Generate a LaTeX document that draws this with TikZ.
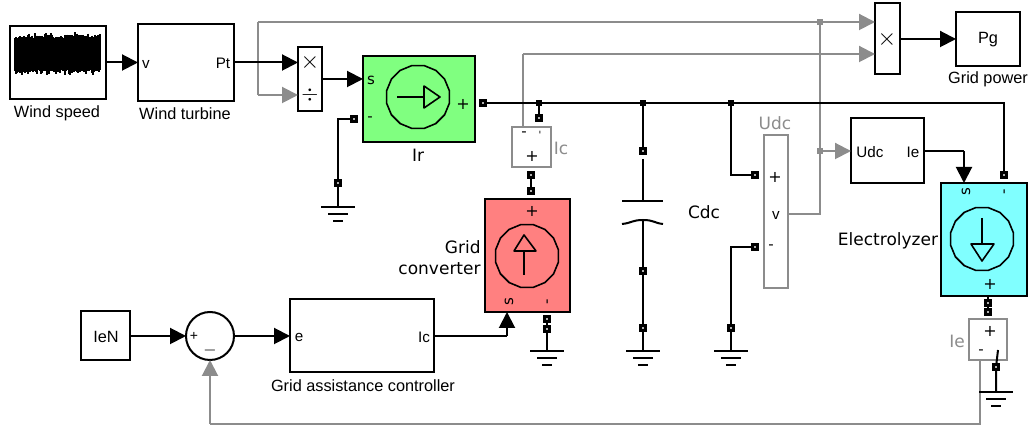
\documentclass[tikz,border=0pt]{standalone}
\usepackage{fontspec}
\setmainfont{Liberation Sans}
\newfontfamily\vdfont{DejaVu Sans}
\usetikzlibrary{arrows.meta,shapes.geometric}
\definecolor{sigray}{HTML}{8C8C8C}
\definecolor{srcgreen}{HTML}{80FF80}
\definecolor{srcred}{HTML}{FF8080}
\definecolor{srccyan}{HTML}{80FFFF}
\tikzset{
    wire/.style={line width=1pt},
    graywire/.style={line width=1pt, draw=sigray},
    sig/.style={wire, -{Triangle[length=8pt,width=8pt]}, shorten >=-0.5pt},
    graysig/.style={graywire, -{Triangle[length=8pt,width=8pt]}, shorten >=-0.5pt},
    block/.style={draw, line width=1pt, inner sep=0pt},
    graybox/.style={draw=sigray, line width=1pt, inner sep=0pt, fill=white},
    port/.style={draw, fill=black!30, line width=1.5pt, minimum size=2.6pt, inner sep=0pt},
    dotj/.style={fill=black, minimum size=3pt, inner sep=0pt},
    grayj/.style={fill=sigray, minimum size=3pt, inner sep=0pt},
    srcring/.style={draw, line width=0.8pt, regular polygon, regular polygon sides=16, minimum size=32pt, inner sep=0pt},
    lbl/.style={inner sep=0pt, font=\fontsize{8.15}{9}\selectfont},
    vlbl/.style={inner sep=0pt, font=\vdfont\fontsize{8.5}{10.5}\selectfont},
    tag/.style={inner sep=0pt, font=\fontsize{7.6}{8}\selectfont},
    vtag/.style={inner sep=0pt, font=\vdfont\fontsize{7.5}{8}\selectfont},
    plus/.style={inner sep=0pt, font=\vdfont\fontsize{8}{8}\selectfont},
}
\begin{document}
\begin{tikzpicture}[x=0.5pt,y=-0.5pt]
\useasboundingbox (0,0) rectangle (1029,426);

% gray signals first, the bus runs over them
\coordinate (feedtop) at (258,22);
\coordinate (feedlow) at (258,95);
\coordinate (icup) at (523,54);
\coordinate (icout) at (523,127);
\coordinate (vout) at (788,214);
\coordinate (vtop) at (820,214);
\coordinate (ieout) at (980,360);
\coordinate (iedown) at (980,424);
\coordinate (iebend) at (210,424);

% first row
\node[block, minimum width=48pt, minimum height=36.5pt] (windspeed) at (58,62.5) {};
\pgfmathsetseed{4711}
\foreach \x in {15,16,...,100} {
    \pgfmathsetmacro{\wtop}{38-rnd*rnd*6}
    \pgfmathsetmacro{\wlow}{70+rnd*rnd*6}
    \draw[line width=0.55pt] (\x,\wtop) -- (\x,\wlow);
}
\node[lbl] (windlabel) at (57,113) {Wind speed};
\node[block, minimum width=48pt, minimum height=38.5pt] (turbine) at (186,62.5) {};
\node[tag] (vtxt) at (146,64) {v};
\node[tag] (pttxt) at (223,63) {Pt};
\node[lbl] (turbinelabel) at (185,114) {Wind turbine};
\node[block, minimum width=12pt, minimum height=32pt] (divide) at (310,79) {};
\node[lbl, font=\fontsize{13}{13}\selectfont] (divx) at (310,63) {$\times$};
\node[lbl, font=\fontsize{11}{11}\selectfont] (divd) at (310,95) {$\div$};
\node[block, fill=srcgreen, minimum width=56pt, minimum height=43pt] (irsrc) at (419,99) {};
\node[srcring] (irring) at (418,97) {};
\draw[line width=0.8pt] (397,97) -- (424,97);
\draw[line width=0.8pt, line join=round] (424,86) -- (440,97) -- (424,108) -- cycle;
\node[vtag] (irs) at (371,80) {s};
\node[vtag] (irm) at (370,119) {-};
\node[plus] (irp) at (463,104) {+};
\node[vlbl] (irlabel) at (418,155) {Ir};
\node[block, minimum width=12.5pt, minimum height=35.5pt] (power) at (887.5,39) {};
\node[lbl, font=\fontsize{13}{13}\selectfont] (powx) at (887,40) {$\times$};
\node[block, minimum width=32pt, minimum height=27pt] (pgbox) at (988,39) {};
\node[lbl] (pgtxt) at (988,40) {Pg};
\node[lbl] (pglabel) at (988,79) {Grid power};

% gray connectors
\draw[graysig] (feedlow) -- (feedlow -| divide.west);
\draw[graywire] (feedlow) -- (feedtop);
\draw[graysig] (feedtop) -- (feedtop -| power.west);
\draw[graywire] (icout) -- (icup);
\draw[graysig] (icup) -- (icup -| power.west);
\node[grayj] (vjtop) at (820,22) {};
\node[grayj] (vjmid) at (820,151) {};
\node[block, minimum width=36.5pt, minimum height=32.5pt] (udcbox) at (887.5,151) {};
\node[tag] (udctxt) at (870,152) {Udc};
\node[tag] (ietxt) at (913,152) {Ie};
\draw[graywire] (vout) -- (vtop) -- (vjtop);
\draw[graysig] (vjmid) -- (udcbox.west);

% black signals
\draw[sig] (windspeed.east) -- (turbine.west);
\draw[sig] (turbine.east) -- (divide.west |- turbine.east);
\draw[sig] (divide.east) -- (irsrc.west |- divide.east);

% dc bus
\node[port] (irplus) at (483,103) {};
\node[port] (elminus) at (1004,175) {};
\node[dotj] (busa) at (539,103) {};
\node[dotj] (busb) at (643,103) {};
\node[dotj] (busc) at (731,103) {};
\coordinate (busend) at (1004,103);
\draw[wire] (irplus) -- (busend) -- (elminus);

% ground of Ir
\node[port] (irminus) at (354,119) {};
\node[port] (irgnd) at (338,183) {};
\coordinate (irbend) at (338,119);
\coordinate (gnda) at (338,207);
\draw[wire] (irminus) -- (irbend) -- (irgnd) -- (gnda);

% grid converter branch
\node[port] (icbus) at (539,118) {};
\draw[wire] (busa) -- (icbus);
\node[graybox, minimum width=19.5pt, minimum height=20pt] (icbox) at (531.5,147) {};
\node[vtag] (icm) at (524,134) {-};
\node[vtag, font=\vdfont\fontsize{5}{5}\selectfont] (icq) at (540,135) {'};
\node[plus] (icp) at (532,156) {+};
\node[vlbl, text=sigray] (iclabel) at (561,148) {Ic};
\node[port] (icdown) at (531,175) {};
\node[port] (gcup) at (531,191) {};
\draw[wire] (icdown) -- (gcup);
\node[block, fill=srcred, minimum width=42.5pt, minimum height=56.5pt] (gridsrc) at (527.5,255.5) {};
\node[srcring] (gridring) at (527,256) {};
\draw[line width=0.8pt] (524,275) -- (524,251);
\draw[line width=0.8pt, line join=round] (514,251) -- (524,235) -- (536,251) -- cycle;
\node[plus] (gridp) at (532,211) {+};
\node[vtag, rotate=90] (grids) at (509,302) {s};
\node[vtag, rotate=90] (gridm) at (549,302) {-};
\node[vlbl, align=right, anchor=east] (gridlabel) at (481,258) {Grid\\converter};
\node[port] (gcminus) at (547,319) {};
\node[port] (gcgnd) at (547,329) {};
\coordinate (gndb) at (547,351);
\draw[wire] (gcminus) -- (gcgnd) -- (gndb);

% capacitor
\node[port] (captop) at (643,151) {};
\coordinate (plateup) at (643,201);
\coordinate (platedn) at (643,220);
\node[port] (capmid) at (643,271) {};
\node[port] (caplow) at (643,328) {};
\coordinate (gndc) at (643,351);
\draw[wire] (busb) -- (captop);
\draw[wire] (643,159) -- (plateup);
\draw[wire] (622,201) -- (663,201);
\draw[wire] (622,224) .. controls (632,223) and (632,220) .. (platedn) .. controls (654,220) and (654,223) .. (663,224);
\draw[wire] (platedn) -- (capmid) -- (caplow) -- (gndc);
\node[vlbl] (cdclabel) at (704,212) {Cdc};

% voltage measurement
\node[graybox, minimum width=12pt, minimum height=76.5pt] (udcmeas) at (776,211.5) {};
\node[vlbl, text=sigray] (udclabel) at (775,123) {Udc};
\node[plus] (udcp) at (775,177) {+};
\node[tag] (udcv) at (776,215) {v};
\node[vtag] (udcm) at (771,247) {-};
\node[port] (measp) at (755,175) {};
\node[port] (measm) at (755,247) {};
\node[port] (measg) at (731,328) {};
\coordinate (measpb) at (731,175);
\coordinate (measmb) at (731,247);
\coordinate (gndd) at (731,351);
\draw[wire] (busc) -- (measpb) -- (measp);
\draw[wire] (measm) -- (measmb) -- (measg) -- (gndd);

% electrolyzer
\node[block, fill=srccyan, minimum width=43pt, minimum height=56.5pt] (elsrc) at (984,239.5) {};
\node[srcring] (elring) at (982,239) {};
\draw[line width=0.8pt] (982,218) -- (982,244);
\draw[line width=0.8pt, line join=round] (971,244) -- (982,261) -- (994,244) -- cycle;
\node[vtag, rotate=90] (els) at (966,192) {s};
\node[vtag, rotate=90] (elm) at (1006,192) {-};
\node[plus] (elp) at (990,284) {+};
\node[vlbl] (ellabel) at (888,241) {Electrolyzer};
\coordinate (ieturn) at (964,151);
\draw[wire] (udcbox.east) -- (ieturn);
\draw[sig] (ieturn) -- (ieturn |- elsrc.north);
\node[port] (elplusa) at (988,303) {};
\node[port] (elplusb) at (988,312) {};
\draw[wire] (elsrc.south -| elplusa) -- (elplusa) -- (elplusb);
\node[graybox, minimum width=19pt, minimum height=20.5pt] (iebox) at (988,339.5) {};
\node[plus] (iep) at (990,331) {+};
\node[vtag] (iem) at (981,352) {-};
\node[port] (ieg) at (996,367) {};
\coordinate (iequote) at (998,350);
\coordinate (gnde) at (996,392);
\draw[wire] (iequote) -- (ieg) -- (gnde);
\node[vlbl, text=sigray] (ielabel) at (957,341) {Ie};

% lower row
\node[block, minimum width=24.5pt, minimum height=24.5pt] (iensrc) at (105.5,336) {};
\node[lbl] (ientxt) at (106,337) {IeN};
\node[draw, circle, line width=1pt, minimum size=24pt, inner sep=0pt] (sumc) at (210,336) {};
\node[tag, font=\fontsize{7}{7}\selectfont] (sump) at (194,336) {+};
\node[tag, font=\fontsize{8}{8}\selectfont] (summ) at (210,351) {$-$};
\node[block, minimum width=72pt, minimum height=36.5pt] (control) at (362,336) {};
\node[tag] (etxt) at (299,337) {e};
\node[tag] (ictxt) at (424,337) {Ic};
\node[lbl] (controllabel) at (363,386) {Grid assistance controller};
\coordinate (gcturn) at (507,336);
\draw[sig] (iensrc.east) -- (sumc.west);
\draw[sig] (sumc.east) -- (control.west);
\draw[wire] (control.east) -- (gcturn);
\draw[sig] (gcturn) -- (gcturn |- gridsrc.south);
\draw[graywire] (ieout) -- (iedown) -- (iebend);
\draw[graysig] (iebend) -- (sumc.south);
\draw[sig] (power.east) -- (pgbox.west);

% grounds
\foreach \g in {gnda,gndb,gndc,gndd,gnde} {
    \draw[wire] ([xshift=-8.5]\g) -- ([xshift=8.5]\g);
    \draw[wire] ([xshift=-5,yshift=-3.5]\g) -- ([xshift=5,yshift=-3.5]\g);
    \draw[wire] ([xshift=-2.5,yshift=-7]\g) -- ([xshift=2.5,yshift=-7]\g);
}
\end{tikzpicture}
\end{document}
